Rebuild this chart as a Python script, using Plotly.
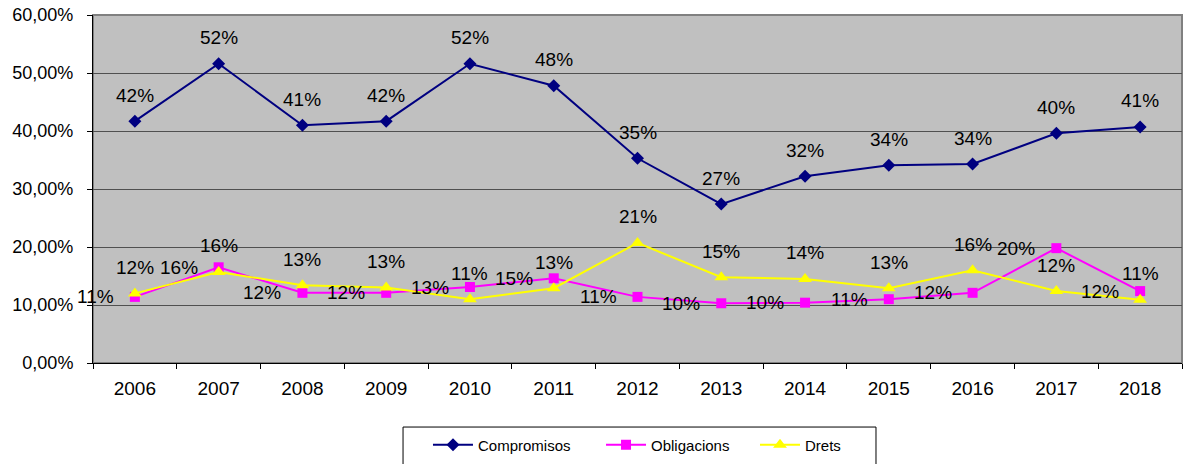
import plotly.graph_objects as go

years = ["2006", "2007", "2008", "2009", "2010", "2011", "2012", "2013", "2014", "2015", "2016", "2017", "2018"]
compromisos = [0.417, 0.516, 0.410, 0.417, 0.516, 0.478, 0.353, 0.274, 0.322, 0.341, 0.343, 0.396, 0.407]
obligacions = [0.114, 0.165, 0.121, 0.121, 0.131, 0.146, 0.114, 0.103, 0.104, 0.110, 0.121, 0.198, 0.124]
drets = [0.120, 0.157, 0.134, 0.130, 0.110, 0.129, 0.207, 0.148, 0.145, 0.129, 0.160, 0.124, 0.109]
y_ticks = [0, 0.1, 0.2, 0.3, 0.4, 0.5, 0.6]

font_family = "Liberation Sans, Arial, sans-serif"
label_font = dict(size=19, color="black", family=font_family)
legend_font = dict(size=15, family=font_family, color="black")

fig = go.Figure()
fig.add_trace(go.Scatter(
    x=years, y=compromisos, name="Compromisos", mode="lines+markers",
    line=dict(color="#000080", width=2),
    marker=dict(symbol="diamond", size=10, color="#000080"),
    legend="legend",
))
fig.add_trace(go.Scatter(
    x=years, y=obligacions, name="Obligacions", mode="lines+markers",
    line=dict(color="#FF00FF", width=2),
    marker=dict(symbol="square", size=10, color="#FF00FF"),
    legend="legend2",
))
fig.add_trace(go.Scatter(
    x=years, y=drets, name="Drets", mode="lines+markers",
    line=dict(color="#FFFF00", width=2),
    marker=dict(symbol="triangle-up", size=12, color="#FFFF00"),
    legend="legend3",
))

# data labels (category axis positions are category indices)
annotations = []
for i, v in enumerate(compromisos):
    annotations.append(dict(x=i, y=v, xref="x", yref="y", text=f"{round(v*100)}%", showarrow=False,
                            xanchor="center", yanchor="middle", yshift=26, font=label_font))
for i, v in enumerate(drets):
    annotations.append(dict(x=i, y=v, xref="x", yref="y", text=f"{round(v*100)}%", showarrow=False,
                            xanchor="center", yanchor="middle", yshift=26, font=label_font))
for i, v in enumerate(obligacions):
    annotations.append(dict(x=i, y=v, xref="x", yref="y", text=f"{round(v*100)}%", showarrow=False,
                            xanchor="right", yanchor="middle", xshift=-19, font=label_font))

def leg(xpos):
    return dict(orientation="h", x=xpos, xanchor="left", y=-0.2356, yanchor="middle",
                borderwidth=0, bgcolor="rgba(0,0,0,0)", font=legend_font, itemwidth=40)

fig.update_layout(
    width=1189, height=464,
    margin=dict(l=93, r=7, t=15, b=101, autoexpand=False),
    paper_bgcolor="white",
    plot_bgcolor="#C0C0C0",
    separators=",.",
    font=dict(family=font_family, size=18, color="black"),
    showlegend=True,
    annotations=annotations,
    legend=leg(0.3076),
    legend2=leg(0.4665),
    legend3=leg(0.6079),
    shapes=[
        dict(type="rect", xref="paper", yref="paper", x0=0, x1=1, y0=0, y1=1,
             line=dict(color="#808080", width=2), layer="below"),
        dict(type="rect", xref="paper", yref="paper", x0=0.2847, x1=0.719, y0=-0.184, y1=-0.35,
             line=dict(color="black", width=1), fillcolor="white", layer="below"),
    ],
)
fig.update_xaxes(
    type="category", showgrid=False, ticks="outside", tickson="boundaries",
    ticklen=5, tickcolor="black", showline=True, linecolor="black", linewidth=1,
    mirror=False, tickfont=dict(size=19), range=[-0.5, 12.5], automargin=False,
    ticklabelstandoff=8, ticklabeloverflow="allow",
)
fig.update_yaxes(
    range=[0, 0.6], tickvals=y_ticks, tickformat=".2%", showgrid=True,
    gridcolor="#505050", gridwidth=1, ticks="outside", ticklen=5, tickcolor="black",
    showline=True, linecolor="black", linewidth=1, mirror=False, zeroline=False,
    tickfont=dict(size=18), automargin=False, ticklabelstandoff=10, ticklabeloverflow="allow",
)

fig.write_html("out.html", config={"displayModeBar": False},
               post_script="document.body.style.margin='0';document.body.style.overflow='hidden';")
